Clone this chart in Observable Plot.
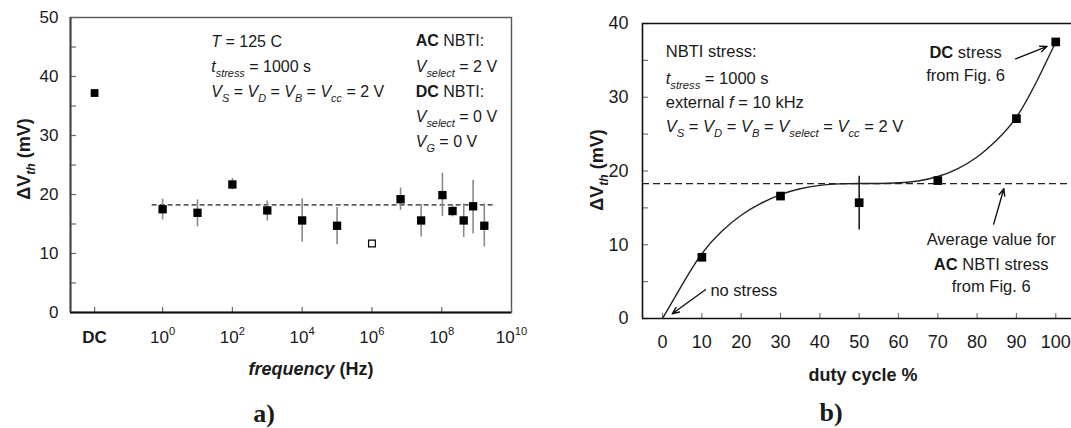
<!DOCTYPE html>
<html><head><meta charset="utf-8">
<script src="https://cdn.jsdelivr.net/npm/d3@7"></script>
<script src="https://cdn.jsdelivr.net/npm/@observablehq/plot@0.6"></script>
<style>
body{margin:0;background:#fff;}
#wrap{position:relative;width:1071px;height:428px;overflow:hidden;background:#fff}
#wrap svg{position:absolute;top:0}
text{white-space:pre}
</style></head><body><div id="wrap"></div>
<script>
// ================= Panel a) data =================
const freqExp = [0, 1, 2, 3, 4, 5, 6.82, 7.41, 8.02, 8.31, 8.63, 8.9, 9.22];      // log10(f / Hz)
const freqDv  = [17.5, 16.9, 21.7, 17.3, 15.6, 14.7, 19.2, 15.6, 19.9, 17.2, 15.6, 18.0, 14.7];
const freqHi  = [19.2, 19.1, 22.7, 18.9, 19.3, 17.8, 21.1, 18.3, 23.6, 18.1, 18.4, 22.4, 18.4];
const freqLo  = [15.7, 14.5, 20.8, 15.5, 11.9, 11.5, 17.3, 12.8, 16.3, 16.2, 12.7, 13.3, 11.1];
const dcPos = -1.95;
const dcDv = 37.2;
const openExp = [6];
const openDv = [11.7];
const acAverage = 18.25;
const acAvgFrom = -0.3, acAvgTo = 9.55;
const xTickValuesA = [-1.95, 0, 2, 4, 6, 8, 10];
const xTickLabelsA = ["DC", "10^0", "10^2", "10^4", "10^6", "10^8", "10^10"];
const yTicksA = [0, 10, 20, 30, 40, 50];
const yMinorA = [0, 5, 10, 15, 20, 25, 30, 35, 40, 45, 50];

// ================= Panel b) data =================
const dutyPts = [10, 30, 50, 70, 90, 100];
const dutyDv  = [8.3, 16.6, 15.7, 18.7, 27.1, 37.5];
const dutyErrX = [50], dutyErrLo = [12.0], dutyErrHi = [19.3];
const curveDuty = [0, 5, 10, 15, 20, 25, 30, 35, 40, 45, 50, 55, 60, 65, 70, 75, 80, 85, 90, 95, 100];
const curveDv   = [0, 4.6, 8.8, 11.8, 14.0, 15.6, 16.8, 17.6, 18.05, 18.25, 18.3, 18.3, 18.4, 18.65, 19.25, 20.3, 21.9, 24.2, 27.3, 32.0, 37.5];
const avgB = 18.3;
const xTicksB = [0, 10, 20, 30, 40, 50, 60, 70, 80, 90, 100];
const yTicksB = [0, 10, 20, 30, 40];
const yMinorB = [0, 5, 10, 15, 20, 25, 30, 35, 40];

// ================= annotations =================
const notesA = [
  {x: 1.41, y: 44.9, parts: [["T","i"], " = 125 C"]},
  {x: 1.41, y: 40.7, parts: [["t","i"], ["stress","i_"], " = 1000 s"]},
  {x: 1.41, y: 36.4, parts: [["V","i"],["S","i_"]," = ",["V","i"],["D","i_"]," = ",["V","i"],["B","i_"]," = ",["V","i"],["cc","i_"]," = 2 V"]},
  {x: 7.27, y: 45.1, parts: [["AC","b"], " NBTI:"]},
  {x: 7.27, y: 40.7, parts: [["V","i"],["select","i_"], " = 2 V"]},
  {x: 7.27, y: 36.4, parts: [["DC","b"], " NBTI:"]},
  {x: 7.27, y: 32.2, parts: [["V","i"],["select","i_"], " = 0 V"]},
  {x: 7.27, y: 28.0, parts: [["V","i"],["G","i_"], " = 0 V"]}
];
const notesB = [
  {x: 0.94, y: 35.4, parts: ["NBTI stress:"]},
  {x: 0.94, y: 31.7, parts: [["t","i"], ["stress","i_"], " = 1000 s"]},
  {x: 0.94, y: 28.5, parts: ["external ", ["f","i"], " = 10 kHz"]},
  {x: 0.94, y: 25.2, parts: [["V","i"],["S","i_"]," = ",["V","i"],["D","i_"]," = ",["V","i"],["B","i_"]," = ",["V","i"],["select","i_"]," = ",["V","i"],["cc","i_"]," = 2 V"]},
  {x: 77.2, y: 35.3, anchor: "middle", parts: [["DC","b"], " stress"]},
  {x: 77.2, y: 32.2, anchor: "middle", parts: ["from Fig. 6"]},
  {x: 83.7, y: 9.84, anchor: "middle", parts: ["Average value for"]},
  {x: 83.7, y: 6.54, anchor: "middle", parts: [["AC","b"], " NBTI stress"]},
  {x: 83.7, y: 3.52, anchor: "middle", parts: ["from Fig. 6"]},
  {x: 12.3, y: 2.93, parts: ["no stress"]}
];
const arrowsB = [
  {x1: 89.8, y1: 35.2, x2: 97.8, y2: 36.9},
  {x1: 84.2, y1: 12.8, x2: 86.8, y2: 17.6},
  {x1: 10.9, y1: 3.9, x2: 2.45, y2: 0.64}
];

// ================= helpers =================
const FONT = "'Liberation Sans', Arial, Helvetica, sans-serif";
const SERIF = "'Liberation Serif', 'Times New Roman', serif";
const INK = "#1a1a1a";

function richText(svg, x, y, parts, {size = 16, anchor = "start", weight = "normal", family = FONT, rotate = 0} = {}) {
  const t = d3.select(svg).append("text")
    .attr("x", x).attr("y", y)
    .attr("font-size", size).attr("font-family", family)
    .attr("text-anchor", anchor).attr("font-weight", weight)
    .attr("fill", INK);
  if (rotate) t.attr("transform", `rotate(${rotate},${x},${y})`);
  let shift = 0;
  for (const p of parts) {
    const [str, style] = typeof p === "string" ? [p, ""] : [p[0], p[1] || ""];
    const s = t.append("tspan").text(str);
    const sub = style.includes("_"), sup = style.includes("^");
    const target = sub ? size * 0.3 : sup ? -size * 0.42 : 0;
    const dy = target - shift;
    if (dy) s.attr("dy", dy);
    shift = target;
    if (sub || sup) s.attr("font-size", size * 0.68);
    if (style.includes("i")) s.attr("font-style", "italic");
    if (style.includes("b")) s.attr("font-weight", "bold");
  }
  return t;
}

function fixTickLabels(svg, size) {
  d3.select(svg).selectAll('g[aria-label="x-axis tick label"] text').each(function () {
    const txt = this.textContent;
    const sel = d3.select(this);
    const m = /^10\^(\d+)$/.exec(txt);
    if (m) {
      sel.text(null);
      sel.append("tspan").text("10");
      sel.append("tspan").attr("dy", -size * 0.42).attr("font-size", size * 0.66).text(m[1]);
    } else if (txt === "DC") {
      sel.attr("font-weight", "bold");
    }
  });
}

const wrap = document.getElementById("wrap");

// ================= Panel a) =================
{
  const W = 540, H = 428, ml = 70, mr = 29, mt = 17, mb = 116;
  const pw = W - ml - mr, ph = H - mt - mb;
  const xDomain = [-2.64, 10];
  const data = freqExp.map((e, i) => ({e, dv: freqDv[i], lo: freqLo[i], hi: freqHi[i]}));
  const dc = [{e: dcPos, dv: dcDv}];
  const open = openExp.map((e, i) => ({e, dv: openDv[i]}));
  const avg = [{y: acAverage, x1: acAvgFrom, x2: acAvgTo}];
  const plot = Plot.plot({
    width: W, height: H, marginLeft: ml, marginRight: mr, marginTop: mt, marginBottom: mb,
    style: {fontFamily: FONT, color: INK, background: "transparent", overflow: "visible"},
    x: {type: "linear", domain: xDomain},
    y: {domain: [0, 50]},
    marks: [
      Plot.frame({stroke: "#555", strokeWidth: 1.4}),
      Plot.tickX(xTickValuesA, {x: d => d, insetTop: ph - 5, stroke: "#666", strokeWidth: 1.2}),
      Plot.tickY(yMinorA, {y: d => d, insetRight: pw - 6, stroke: "#666", strokeWidth: 1.2}),
      Plot.ruleY([0], {stroke: "#111", strokeWidth: 2}),
      Plot.ruleX([xDomain[0]], {stroke: "#444", strokeWidth: 2}),
      Plot.ruleY(avg, {y: "y", x1: "x1", x2: "x2", stroke: "#222", strokeWidth: 1.3, strokeDasharray: "5,3"}),
      Plot.ruleX(data, {x: "e", y1: "lo", y2: "hi", stroke: "#8a8a8a", strokeWidth: 1.6}),
      Plot.dot(data, {x: "e", y: "dv", symbol: "square", r: 4.7, fill: "#000"}),
      Plot.dot(dc, {x: "e", y: "dv", symbol: "square", r: 4.4, fill: "#000"}),
      Plot.dot(open, {x: "e", y: "dv", symbol: "square", r: 3.8, fill: "#fff", stroke: "#000", strokeWidth: 1.2}),
      Plot.axisX(xTickValuesA, {anchor: "bottom", tickSize: 0, tickPadding: 18, fontSize: 17, label: null,
        tickFormat: d => xTickLabelsA[xTickValuesA.indexOf(d)]}),
      Plot.axisY(yTicksA, {anchor: "left", tickSize: 0, tickPadding: 12, fontSize: 17, label: null})
    ]
  });
  plot.style.left = "0px";
  wrap.appendChild(plot);
  fixTickLabels(plot, 17);
  const sx = plot.scale("x").apply, sy = plot.scale("y").apply;
  for (const n of notesA) richText(plot, sx(n.x), sy(n.y), n.parts, {size: 16, anchor: n.anchor || "start"});
  richText(plot, 30, 159, ["Δ", "V", ["th", "_i"], " (mV)"], {size: 18, weight: "bold", anchor: "middle", rotate: -90});
  richText(plot, 311, 375, [["frequency", "bi"], " (Hz)"], {size: 18, weight: "bold", anchor: "middle"});
  richText(plot, 264, 422, ["a)"], {size: 26, weight: "bold", anchor: "middle", family: SERIF});
}

// ================= Panel b) =================
{
  const W = 531, H = 428, ml = 102, mr = 0, mt = 23, mb = 110;
  const pw = W - ml - mr, ph = H - mt - mb;
  const xDomain = [-5.1, 104];
  const pts = dutyPts.map((d, i) => ({d, dv: dutyDv[i]}));
  const err = dutyErrX.map((d, i) => ({d, lo: dutyErrLo[i], hi: dutyErrHi[i]}));
  const curve = curveDuty.map((d, i) => ({d, dv: curveDv[i]}));
  const plot = Plot.plot({
    width: W, height: H, marginLeft: ml, marginRight: mr, marginTop: mt, marginBottom: mb,
    style: {fontFamily: FONT, color: INK, background: "transparent", overflow: "visible"},
    x: {type: "linear", domain: xDomain},
    y: {domain: [0, 40]},
    marks: [
      Plot.tickX(xTicksB, {x: d => d, insetTop: ph - 5, stroke: "#777", strokeWidth: 1.2}),
      Plot.tickY(yMinorB, {y: d => d, insetRight: pw - 6, stroke: "#777", strokeWidth: 1.2}),
      Plot.ruleY([0], {stroke: "#111", strokeWidth: 1.6}),
      Plot.ruleY([40], {stroke: "#111", strokeWidth: 1.6}),
      Plot.ruleX([xDomain[0]], {stroke: "#111", strokeWidth: 1.6}),
      Plot.ruleY([avgB], {stroke: "#222", strokeWidth: 1.2, strokeDasharray: "7,4"}),
      Plot.line(curve, {x: "d", y: "dv", curve: "natural", stroke: "#222", strokeWidth: 1.4}),
      Plot.ruleX(err, {x: "d", y1: "lo", y2: "hi", stroke: "#111", strokeWidth: 1.5}),
      Plot.dot(pts, {x: "d", y: "dv", symbol: "square", r: 4.9, fill: "#000"}),
      Plot.arrow(arrowsB, {x1: "x1", y1: "y1", x2: "x2", y2: "y2", stroke: "#111", strokeWidth: 1.4, headLength: 8, headAngle: 45}),
      Plot.axisX(xTicksB, {anchor: "bottom", tickSize: 0, tickPadding: 17, fontSize: 18, label: null}),
      Plot.axisY(yTicksB, {anchor: "left", tickSize: 0, tickPadding: 14, fontSize: 18, label: null})
    ]
  });
  plot.style.left = "540px";
  wrap.appendChild(plot);
  const sx = plot.scale("x").apply, sy = plot.scale("y").apply;
  for (const n of notesB) richText(plot, sx(n.x), sy(n.y), n.parts, {size: 16.5, anchor: n.anchor || "start"});
  richText(plot, 63, 170, ["Δ", "V", ["th", "_i"], " (mV)"], {size: 18, weight: "bold", anchor: "middle", rotate: -90});
  richText(plot, 323, 381, ["duty cycle %"], {size: 18, weight: "bold", anchor: "middle"});
  richText(plot, 291, 421, ["b)"], {size: 26, weight: "bold", anchor: "middle", family: SERIF});
}
</script></body></html>
